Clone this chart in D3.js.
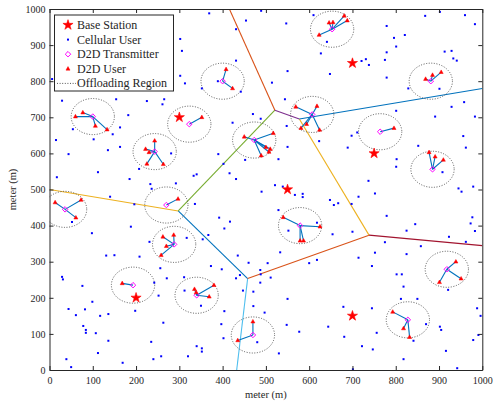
<!DOCTYPE html>
<html><head><meta charset="utf-8">
<script src="https://cdn.jsdelivr.net/npm/d3@7"></script>
<style>body{margin:0;background:#fff}</style>
</head><body>
<svg id="chart" width="493" height="401"></svg>
<script>
// ---------------- DATA ----------------
const xTicks = [0,100,200,300,400,500,600,700,800,900,1000];
const yTicks = [0,100,200,300,400,500,600,700,800,900,1000];
const stationX = [200,300,550,700,700,750];
const stationY = [200,700,500,150,850,600];
const cellularUsers = [[369,988],[489,995],[454,968],[547,960],[431,944],[431,857],[550,828],[514,796],[442,771],[352,780],[389,800],[302,917],[306,884],[302,815],[313,794],[6,806],[610,983],[868,981],[902,992],[960,983],[983,958],[779,953],[821,928],[796,920],[801,896],[641,909],[627,877],[779,880],[913,882],[929,884],[933,863],[941,857],[721,856],[731,861],[738,845],[775,859],[648,820],[779,810],[829,780],[901,779],[958,742],[929,729],[801,718],[891,702],[983,702],[544,750],[470,709],[488,696],[548,676],[623,634],[698,649],[711,658],[689,616],[956,648],[852,621],[962,616],[802,584],[801,563],[550,618],[529,584],[390,598],[423,685],[402,571],[416,545],[340,542],[431,529],[521,512],[452,582],[908,548],[585,488],[714,480],[752,489],[952,494],[979,508],[737,524],
[29,746],[154,750],[225,745],[265,750],[261,736],[182,706],[163,672],[146,653],[102,639],[54,667],[15,637],[44,598],[135,609],[163,618],[281,600],[207,557],[112,548],[185,529],[17,534],[140,480],[196,459],[236,502],[333,538],[52,410],[98,379],[188,397],[317,366],[392,422],[404,392],[490,494],[233,515],[292,517],[336,460],[417,411],[367,374],[354,362],[231,355],[460,297],[435,317],[373,288],[398,279],[256,282],[504,296],[487,277],[488,265],[440,263],[431,254],[511,256],[487,242],[271,254],[311,257],[252,206],[312,220],[350,178],[404,163],[471,177],[497,159],[397,127],[263,131],[402,88],[529,443],[131,317],[150,318],[208,314],[29,258],[31,251],[76,233],[99,189],[44,169],[61,152],[82,168],[117,150],[136,155],[198,164],[242,242],[447,220],[471,217],[78,122],[84,111],[84,103],[107,102],[136,81],[235,78],[112,47],[39,30],[50,8],[169,20],[240,30],[258,38],[320,38],[340,66],[352,60],[352,51],[480,77],[530,46],[577,106],[681,92],[722,66],[747,57],[756,103],[701,2],[818,30],[841,81],[905,111],[916,53],[979,83],[942,5],
[539,508],[567,485],[585,479],[648,471],[657,457],[667,462],[698,460],[779,427],[845,404],[825,386],[945,503],[977,423],[973,406],[983,385],[923,369],[962,355],[858,343],[752,325],[714,311],[825,321],[802,265],[814,265],[745,288],[818,231],[700,383],[654,376],[552,386],[618,408],[533,326],[618,305],[600,296],[550,197],[679,175],[745,171],[812,197],[850,197],[921,222],[988,171],[996,150],[644,120],[548,125],[902,120],[870,127],[991,97],[775,354]];
const txX = [100,243,323,400,473,36,270,288,193,340,470,653,881,607,764,885,579,918,828];
const txY = [702,605,681,800,637,445,457,348,235,207,97,944,800,708,660,556,400,279,139];
const rxCluster = [0,0,0,0, 1,1,1,1,1, 2, 3,3, 4,4,4,4,4,4, 5,5,5, 6, 7,7,7,7, 8, 9,9,9,9, 10,10, 11,11,11,11,11, 12,12,12, 13,13,13,13,13, 14, 15,15,15, 16,16,16,16, 17,17,17, 18,18,18];
const rxX = [77,60,106,133, 243,222,230,225,263, 352, 408,423, 450,517,500,510,507,489, 13,73,61, 297, 262,287,270,258, 168, 335,339,380,369, 470,435, 646,655,681,688,623, 869,885,905, 569,618,594,581,624, 796, 877,891,910, 540,625,579,587, 939,951,901, 793,818,832];
const rxY = [713,702,676,666, 635,612,603,571,570, 700, 833,780, 646,656,617,612,604,594, 464,471,422, 474, 369,374,343,318, 240, 224,215,235,203, 134,82, 962,963,981,968,928, 806,817,825, 729,731,681,670,665, 670, 603,591,582, 423,397,358,358, 300,253,243, 161,115,91];
const regionRadius = 50;
const legendLabels = ["Base Station","Cellular User","D2D Transmitter","D2D User","Offloading Region"];

// ---------------- STYLE ----------------
const FONT = "Liberation Serif";
const TXT = "#262626";
const edgeColor = {"1-4":"#D95319","2-4":"#7E2F8E","4-5":"#0072BD","1-2":"#77AC30","0-1":"#EDB120",
  "0-2":"#0072BD","0-3":"#4DBEEE","2-3":"#D95319","2-5":"#EDB120","3-5":"#A2142F"};

const svg = d3.select("#chart");
const L = 49.5, R = 482.3, T = 9, B = 370;
const x = d3.scaleLinear().domain([0,1000]).range([L,R]);
const y = d3.scaleLinear().domain([0,1000]).range([B,T]);

svg.append("rect").attr("width",493).attr("height",401).attr("fill","#fff");
svg.append("clipPath").attr("id","clip").append("rect")
  .attr("x",L).attr("y",T).attr("width",R-L).attr("height",B-T);
const plot = svg.append("g").attr("clip-path","url(#clip)");

// Voronoi edges between base stations
const stations = stationX.map((v,i)=>[v,stationY[i]]);
const vor = d3.Delaunay.from(stations).voronoi([0,0,1000,1000]);
const near = (a,b)=>Math.abs(a-b)<1e-6;
const onBorder = (p,q) => (near(p[0],0)&&near(q[0],0))||(near(p[0],1000)&&near(q[0],1000))||
  (near(p[1],0)&&near(q[1],0))||(near(p[1],1000)&&near(q[1],1000));
const edges = [];
stations.forEach((s,i)=>{
  const poly = vor.cellPolygon(i);
  for(let k=0;k<poly.length-1;k++){
    const p=poly[k], q=poly[k+1];
    if(onBorder(p,q)) continue;
    const mx=(p[0]+q[0])/2, my=(p[1]+q[1])/2;
    const di=Math.hypot(mx-s[0],my-s[1]);
    let best=-1, bd=Infinity;
    stations.forEach((t,j)=>{ if(j===i) return; const d=Math.abs(Math.hypot(mx-t[0],my-t[1])-di); if(d<bd){bd=d;best=j;} });
    if(i<best) edges.push({p,q,key:i+"-"+best});
  }
});
plot.selectAll("line.vor").data(edges).join("line").attr("class","vor")
  .attr("x1",d=>x(d.p[0])).attr("y1",d=>y(d.p[1])).attr("x2",d=>x(d.q[0])).attr("y2",d=>y(d.q[1]))
  .attr("stroke",d=>edgeColor[d.key]||"#0072BD").attr("stroke-width",1.1);

// offloading regions
plot.selectAll("ellipse.reg").data(txX).join("ellipse").attr("class","reg")
  .attr("cx",d=>x(d)).attr("cy",(d,i)=>y(txY[i]))
  .attr("rx",x(regionRadius)-x(0)).attr("ry",y(0)-y(regionRadius))
  .attr("fill","none").attr("stroke","#555").attr("stroke-width",1).attr("stroke-dasharray","1,1.6");

// cellular users
plot.selectAll("rect.cu").data(cellularUsers).join("rect").attr("class","cu")
  .attr("x",d=>x(d[0])-1).attr("y",d=>y(d[1])-1).attr("width",2).attr("height",2).attr("fill","#0000FF");

// D2D links
plot.selectAll("line.link").data(rxX).join("line").attr("class","link")
  .attr("x1",(d,i)=>x(txX[rxCluster[i]])).attr("y1",(d,i)=>y(txY[rxCluster[i]]))
  .attr("x2",d=>x(d)).attr("y2",(d,i)=>y(rxY[i]))
  .attr("stroke","#0072BD").attr("stroke-width",1.1);

const diamondType = {draw(ctx,size){const r=Math.sqrt(size)/2; ctx.moveTo(0,-r);ctx.lineTo(r,0);ctx.lineTo(0,r);ctx.lineTo(-r,0);ctx.closePath();}};
const triType = {draw(ctx,size){const r=Math.sqrt(size)/2; ctx.moveTo(0,-r);ctx.lineTo(r*0.9,r*0.6);ctx.lineTo(-r*0.9,r*0.6);ctx.closePath();}};
const diamond = d3.symbol().type(diamondType).size(30);
const tri = d3.symbol().type(triType).size(20);
const star = d3.symbol().type(d3.symbolStar).size(32);

plot.selectAll("path.tx").data(txX).join("path").attr("class","tx")
  .attr("d",diamond).attr("transform",(d,i)=>`translate(${x(d)},${y(txY[i])})`)
  .attr("fill","none").attr("stroke","#FF00FF").attr("stroke-width",1);
plot.selectAll("path.rx").data(rxX).join("path").attr("class","rx")
  .attr("d",tri).attr("transform",(d,i)=>`translate(${x(d)},${y(rxY[i])})`)
  .attr("fill","#FF0000").attr("stroke","#FF0000").attr("stroke-width",0.5);
plot.selectAll("path.bs").data(stationX).join("path").attr("class","bs")
  .attr("d",star).attr("transform",(d,i)=>`translate(${x(d)},${y(stationY[i])})`)
  .attr("fill","#FF0000").attr("stroke","#FF0000").attr("stroke-width",0.6);

// axes
function styleAxis(g){
  g.attr("font-family",FONT).attr("font-size",10);
  g.selectAll("path,line").attr("stroke",TXT);
  g.selectAll("path").attr("stroke-width",1);
  g.selectAll("text").attr("fill",TXT);
}
const fmt = d3.format("d");
svg.append("g").attr("transform",`translate(0,${B})`).call(d3.axisBottom(x).tickValues(xTicks).tickFormat(fmt).tickSizeInner(-4).tickSizeOuter(0).tickPadding(7)).call(styleAxis);
svg.append("g").attr("transform",`translate(${L},0)`).call(d3.axisLeft(y).tickValues(yTicks).tickFormat(fmt).tickSizeInner(-4).tickSizeOuter(0).tickPadding(4)).call(styleAxis);
svg.append("g").attr("transform",`translate(0,${T})`).call(d3.axisTop(x).tickValues(xTicks).tickSizeInner(-4).tickSizeOuter(0).tickFormat("")).call(styleAxis);
svg.append("g").attr("transform",`translate(${R},0)`).call(d3.axisRight(y).tickValues(yTicks).tickSizeInner(-4).tickSizeOuter(0).tickFormat("")).call(styleAxis);

svg.append("text").attr("x",(L+R)/2).attr("y",398).attr("text-anchor","middle").attr("font-family",FONT).attr("font-size",10.5).attr("fill",TXT).text("meter (m)");
svg.append("text").attr("transform",`translate(15.5,${(T+B)/2}) rotate(-90)`).attr("text-anchor","middle").attr("font-family",FONT).attr("font-size",10.5).attr("fill",TXT).text("meter (m)");

// legend
const lg = svg.append("g");
lg.append("rect").attr("x",54.5).attr("y",15).attr("width",119).attr("height",76).attr("fill","#fff").attr("stroke",TXT).attr("stroke-width",1);
const ly = i => 25 + i*14.6;
lg.append("path").attr("d",star).attr("transform",`translate(68,${ly(0)})`).attr("fill","#FF0000").attr("stroke","#FF0000").attr("stroke-width",0.6);
lg.append("rect").attr("x",67).attr("y",ly(1)-1).attr("width",2).attr("height",2).attr("fill","#0000FF");
lg.append("path").attr("d",diamond).attr("transform",`translate(68,${ly(2)})`).attr("fill","none").attr("stroke","#FF00FF");
lg.append("path").attr("d",tri).attr("transform",`translate(68,${ly(3)})`).attr("fill","#FF0000").attr("stroke","#FF0000").attr("stroke-width",0.5);
lg.append("line").attr("x1",57).attr("x2",76).attr("y1",ly(4)).attr("y2",ly(4)).attr("stroke","#555").attr("stroke-dasharray","1,1.6");
lg.selectAll("text").data(legendLabels).join("text").attr("x",77).attr("y",(d,i)=>ly(i)+4)
  .attr("font-family",FONT).attr("font-size",12).attr("fill",TXT).text(d=>d);
</script>
</body></html>
